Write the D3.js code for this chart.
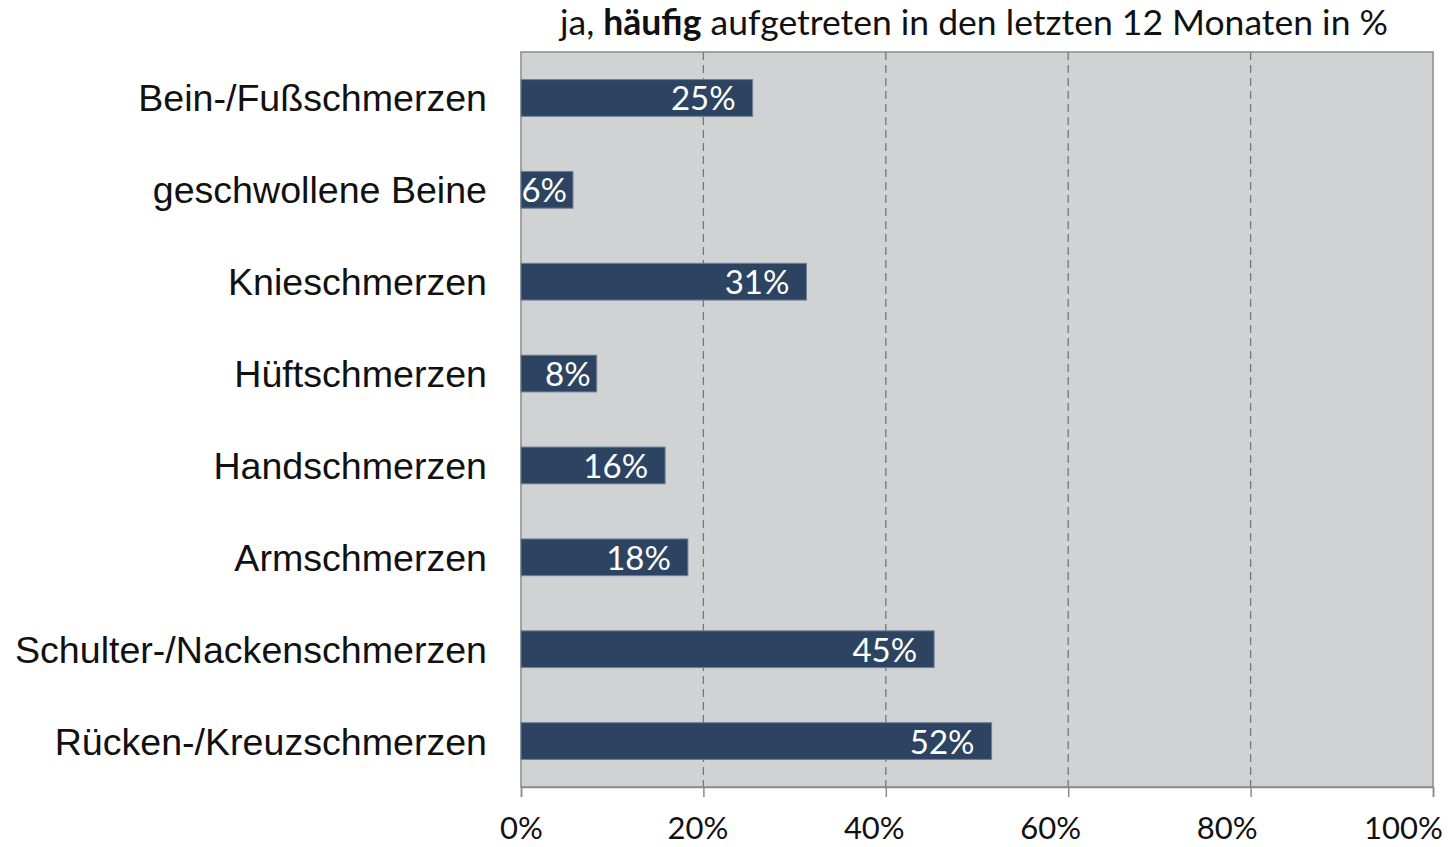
<!DOCTYPE html>
<html>
<head>
<meta charset="utf-8">
<script src="https://cdn.jsdelivr.net/npm/d3@7"></script>
<style>
  body { margin: 0; background: #fff; }
</style>
</head>
<body>
<div id="chart"></div>
<script>
// Data
var categories = ["Bein-/Fußschmerzen", "geschwollene Beine", "Knieschmerzen", "Hüftschmerzen",
                  "Handschmerzen", "Armschmerzen", "Schulter-/Nackenschmerzen", "Rücken-/Kreuzschmerzen"];
var values = [25.4, 5.7, 31.3, 8.3, 15.8, 18.3, 45.3, 51.6];
var valueLabels = ["25%", "6%", "31%", "8%", "16%", "18%", "45%", "52%"];
var xTicks = [0, 20, 40, 60, 80, 100];

//Width and height
var w = 1451;
var h = 847;
var plotLeft = 521, plotRight = 1433, plotTop = 52, plotBottom = 787;

var xScale = d3.scaleLinear().domain([0, 100]).range([plotLeft, plotRight]);
var yScale = d3.scaleBand().domain(categories).range([plotTop, plotBottom]).paddingInner(0.6).paddingOuter(0.3);

var svg = d3.select("#chart").append("svg")
    .attr("width", w)
    .attr("height", h);

// plot background
svg.append("rect")
    .attr("x", plotLeft)
    .attr("y", plotTop)
    .attr("width", plotRight - plotLeft)
    .attr("height", plotBottom - plotTop)
    .attr("fill", "#d1d2d4")
    .attr("stroke", "#8a8a8a")
    .attr("stroke-width", 1.5);

// dashed gridlines
svg.selectAll("line.grid")
    .data(xTicks.filter(function (d) { return d > 0 && d < 100; }))
    .enter()
    .append("line")
    .attr("class", "grid")
    .attr("x1", function (d) { return xScale(d); })
    .attr("x2", function (d) { return xScale(d); })
    .attr("y1", plotTop)
    .attr("y2", plotBottom)
    .attr("stroke", "#777")
    .attr("stroke-width", 1.3)
    .attr("stroke-dasharray", "8,5");

// bars
svg.selectAll("rect.bar")
    .data(values)
    .enter()
    .append("rect")
    .attr("class", "bar")
    .attr("x", xScale(0))
    .attr("y", function (d, i) { return yScale(categories[i]); })
    .attr("width", function (d) { return xScale(d) - xScale(0); })
    .attr("height", yScale.bandwidth())
    .attr("fill", "#2c4462")
    .attr("stroke", "#6f8096")
    .attr("stroke-width", 1);

// value labels
svg.selectAll("text.val")
    .data(values)
    .enter()
    .append("text")
    .attr("class", "val")
    .attr("x", function (d) { return xScale(d) - (d < 10 ? 6 : 17); })
    .attr("y", function (d, i) { return yScale(categories[i]) + yScale.bandwidth() / 2; })
    .attr("dy", "0.38em")
    .attr("text-anchor", "end")
    .attr("font-family", "Lato, sans-serif")
    .attr("font-size", "33px")
    .attr("fill", "#ffffff")
    .text(function (d, i) { return valueLabels[i]; });

// category labels
svg.selectAll("text.cat")
    .data(categories)
    .enter()
    .append("text")
    .attr("class", "cat")
    .attr("x", 487)
    .attr("y", function (d) { return yScale(d) + yScale.bandwidth() / 2; })
    .attr("dy", "0.36em")
    .attr("text-anchor", "end")
    .attr("font-family", "'Liberation Sans', Arial, sans-serif")
    .attr("font-size", "37.6px")
    .attr("fill", "#111")
    .text(function (d) { return d; });

// x axis
var xAxis = d3.axisBottom(xScale)
    .tickValues(xTicks)
    .tickSize(10)
    .tickFormat(function (d) { return d + "%"; });

var gx = svg.append("g")
    .attr("class", "x axis")
    .attr("transform", "translate(0," + plotBottom + ")")
    .call(xAxis);
gx.select(".domain").attr("stroke", "#8a8a8a").attr("stroke-width", 1.5);
gx.selectAll(".tick line").attr("stroke", "#8a8a8a").attr("stroke-width", 1.5);
gx.selectAll(".tick text")
    .attr("y", 30)
    .attr("dy", "0.72em")
    .attr("x", function (d) { return -d * 0.3; })
    .attr("font-family", "Lato, sans-serif")
    .attr("font-size", "31px")
    .attr("fill", "#111");

// title
var title = svg.append("text")
    .attr("x", (plotLeft + plotRight) / 2 - 3)
    .attr("y", 35)
    .attr("text-anchor", "middle")
    .attr("font-family", "Lato, sans-serif")
    .attr("font-size", "35.5px")
    .attr("fill", "#111");
title.append("tspan").text("ja, ");
title.append("tspan").attr("font-weight", "bold").text("häufig");
title.append("tspan").text(" aufgetreten in den letzten 12 Monaten in %");
</script>
</body>
</html>
